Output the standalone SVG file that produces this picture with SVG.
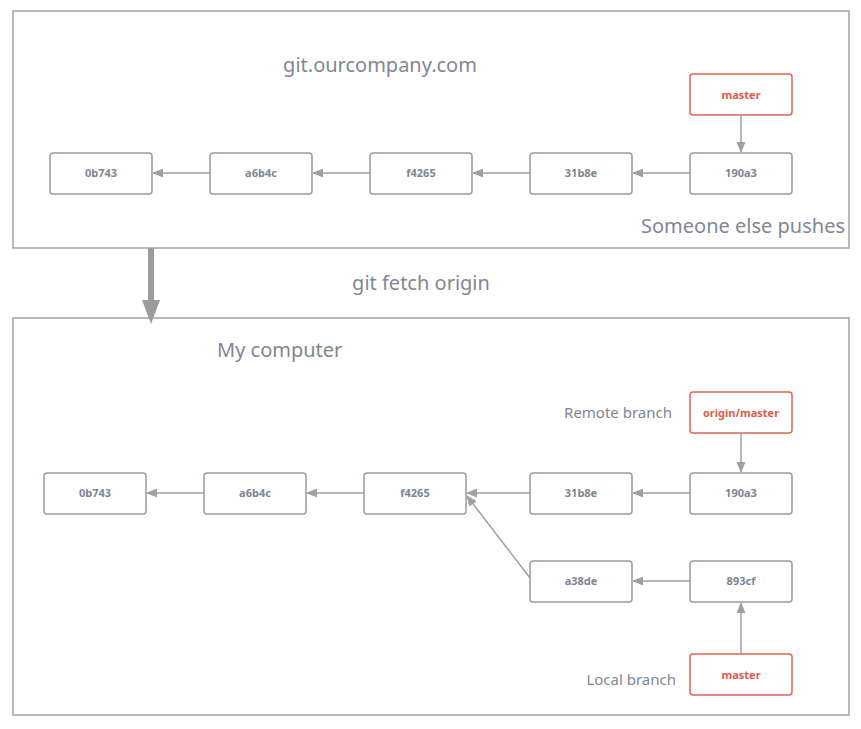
<svg xmlns="http://www.w3.org/2000/svg" width="861" height="729" viewBox="0 0 861 729">
<defs>
<marker id="ah" markerWidth="11" markerHeight="9" refX="10" refY="4.5" orient="auto" markerUnits="userSpaceOnUse">
<path d="M0,0 L11,4.5 L0,9 Z" fill="#a0a0a0"/>
</marker>
</defs>
<style>
.box{fill:none;stroke:#9ca2ad;stroke-width:1.5}
.node{fill:#fff;stroke:#959ca8;stroke-width:1.5}
.red{fill:#fff;stroke:#e06456;stroke-width:1.5}
.lbl{font-family:"Noto Sans","Open Sans",sans-serif;font-size:11px;font-weight:bold;fill:#7d8593;text-anchor:middle}
.rlbl{font-family:"Noto Sans","Open Sans",sans-serif;font-size:11px;font-weight:bold;fill:#e05a4a;text-anchor:middle}
.big{font-family:"Noto Sans","Open Sans",sans-serif;font-size:20px;fill:#7f8795}
.mid{font-family:"Noto Sans","Open Sans",sans-serif;font-size:15px;fill:#7f8795}
.conn{stroke:#a0a0a0;stroke-width:1.5;fill:none;marker-end:url(#ah)}
</style>
<rect width="861" height="729" fill="#fff"/>
<g id="remote-container">
<rect class="box" x="13" y="11" width="836" height="237"/>
<text class="big" x="380" y="72" text-anchor="middle">git.ourcompany.com</text>
<text class="big" x="845" y="233" text-anchor="end">Someone else pushes</text>
</g>
<g id="local-container">
<rect class="box" x="13" y="318" width="836" height="397"/>
<text class="big" x="217" y="357">My computer</text>
<text class="mid" x="672" y="418" text-anchor="end">Remote branch</text>
<text class="mid" x="676" y="685" text-anchor="end">Local branch</text>
</g>
<text class="big" x="421" y="290" text-anchor="middle">git fetch origin</text>
<g id="r-0b743"><rect class="node" x="50" y="153" width="102" height="41" rx="3"/><text class="lbl" x="101" y="177">0b743</text></g>
<g id="r-a6b4c"><rect class="node" x="210" y="153" width="102" height="41" rx="3"/><text class="lbl" x="261" y="177">a6b4c</text></g>
<g id="r-f4265"><rect class="node" x="370" y="153" width="102" height="41" rx="3"/><text class="lbl" x="421" y="177">f4265</text></g>
<g id="r-31b8e"><rect class="node" x="530" y="153" width="102" height="41" rx="3"/><text class="lbl" x="581" y="177">31b8e</text></g>
<g id="r-190a3"><rect class="node" x="690" y="153" width="102" height="41" rx="3"/><text class="lbl" x="741" y="177">190a3</text></g>
<g id="r-master"><rect class="red" x="690" y="74" width="102" height="41" rx="3"/><text class="rlbl" x="741" y="99">master</text></g>
<g id="l-0b743"><rect class="node" x="44" y="473" width="102" height="41" rx="3"/><text class="lbl" x="95" y="497">0b743</text></g>
<g id="l-a6b4c"><rect class="node" x="204" y="473" width="102" height="41" rx="3"/><text class="lbl" x="255" y="497">a6b4c</text></g>
<g id="l-f4265"><rect class="node" x="364" y="473" width="102" height="41" rx="3"/><text class="lbl" x="415" y="497">f4265</text></g>
<g id="l-31b8e"><rect class="node" x="530" y="473" width="102" height="41" rx="3"/><text class="lbl" x="581" y="497">31b8e</text></g>
<g id="l-190a3"><rect class="node" x="690" y="473" width="102" height="41" rx="3"/><text class="lbl" x="741" y="497">190a3</text></g>
<g id="l-origin-master"><rect class="red" x="690" y="392" width="102" height="41" rx="3"/><text class="rlbl" x="741" y="417">origin/master</text></g>
<g id="l-a38de"><rect class="node" x="530" y="561" width="102" height="41" rx="3"/><text class="lbl" x="581" y="585">a38de</text></g>
<g id="l-893cf"><rect class="node" x="690" y="561" width="102" height="41" rx="3"/><text class="lbl" x="741" y="585">893cf</text></g>
<g id="l-master"><rect class="red" x="690" y="654" width="102" height="41" rx="3"/><text class="rlbl" x="741" y="679">master</text></g>
<g id="connectors">
<line class="conn" x1="741" y1="115" x2="741" y2="152"/>
<line class="conn" x1="690" y1="173" x2="633" y2="173"/>
<line class="conn" x1="530" y1="173" x2="473" y2="173"/>
<line class="conn" x1="370" y1="173" x2="313" y2="173"/>
<line class="conn" x1="210" y1="173" x2="153" y2="173"/>
<line x1="151" y1="248" x2="151" y2="304" stroke="#9c9c9c" stroke-width="6"/>
<path d="M142,300 L160,300 L151,324 Z" fill="#9c9c9c"/>
<line class="conn" x1="741" y1="433" x2="741" y2="472"/>
<line class="conn" x1="690" y1="493" x2="633" y2="493"/>
<line class="conn" x1="530" y1="493" x2="467" y2="493"/>
<line class="conn" x1="364" y1="493" x2="307" y2="493"/>
<line class="conn" x1="204" y1="493" x2="147" y2="493"/>
<line class="conn" x1="530" y1="578" x2="467" y2="496"/>
<line class="conn" x1="690" y1="581" x2="633" y2="581"/>
<line class="conn" x1="741" y1="654" x2="741" y2="603"/>
</g>
</svg>
